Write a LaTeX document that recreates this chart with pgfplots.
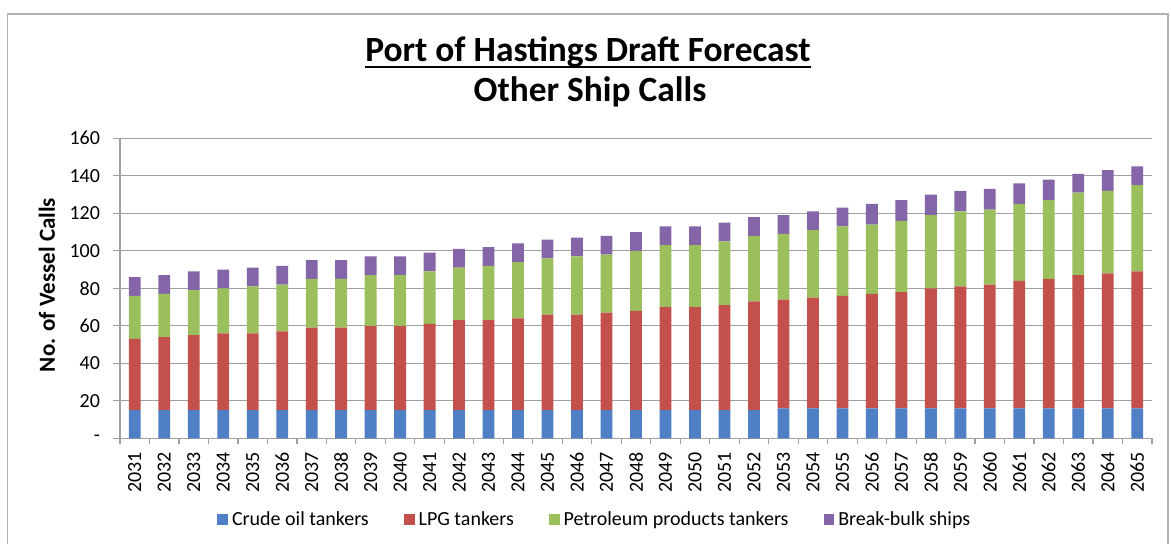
\documentclass[border=0pt]{standalone}
\usepackage{pgfplots}
\pgfplotsset{compat=1.18}
\usepackage{pgfplotstable}
\usepackage{fontspec}
\setmainfont{Carlito}
\definecolor{cblue}{HTML}{4F7FC4}
\definecolor{cred}{HTML}{C4504C}
\definecolor{cgreen}{HTML}{9BBF5C}
\definecolor{cpurple}{HTML}{8466A8}
\definecolor{gridc}{HTML}{A0A0A0}

\pgfplotstableread{
x blue red green purple
0 15 38 23 10
1 15 39 23 10
2 15 40 24 10
3 15 41 24 10
4 15 41 25 10
5 15 42 25 10
6 15 44 26 10
7 15 44 26 10
8 15 45 27 10
9 15 45 27 10
10 15 46 28 10
11 15 48 28 10
12 15 48 29 10
13 15 49 30 10
14 15 51 30 10
15 15 51 31 10
16 15 52 31 10
17 15 53 32 10
18 15 55 33 10
19 15 55 33 10
20 15 56 34 10
21 15 58 35 10
22 16 58 35 10
23 16 59 36 10
24 16 60 37 10
25 16 61 37 11
26 16 62 38 11
27 16 64 39 11
28 16 65 40 11
29 16 66 40 11
30 16 68 41 11
31 16 69 42 11
32 16 71 44 10
33 16 72 44 11
34 16 73 46 10
}\data

\begin{document}
\begin{tikzpicture}
\useasboundingbox (0,0) rectangle (585.5pt,272pt);
\fill[white] (0,0) rectangle (585.5pt,272pt);
\draw[gray!60, line width=0.8pt] (3.75pt,-20pt) rectangle (584pt,265pt);
\node[font=\fontsize{17.7}{21}\selectfont\bfseries, anchor=base, inner sep=0pt] (t1) at (294pt,241.2pt) {Port of Hastings Draft Forecast};
\draw[line width=0.85pt] ([yshift=-2.6pt]t1.base west) -- ([yshift=-2.6pt]t1.base east);
\node[font=\fontsize{17.7}{21}\selectfont\bfseries, anchor=base, inner sep=0pt] at (295pt,221.2pt) {Other Ship Calls};
\node[font=\fontsize{11.5}{13}\selectfont\bfseries, rotate=90] at (23.5pt,129.5pt) {No. of Vessel Calls};
\begin{axis}[
  at={(60pt,52.85pt)}, anchor=south west,
  scale only axis, width=516pt, height=150pt,
  ybar stacked, bar width=5.9pt,
  xmin=-0.5, xmax=34.5, ymin=0, ymax=160,
  ytick={0,20,40,60,80,100,120,140,160},
  yticklabels={-,20,40,60,80,100,120,140,160},
  xtick={0,...,34},
  xticklabels={2031,2032,2033,2034,2035,2036,2037,2038,2039,2040,2041,2042,2043,2044,2045,2046,2047,2048,2049,2050,2051,2052,2053,2054,2055,2056,2057,2058,2059,2060,2061,2062,2063,2064,2065},
  minor xtick={-0.5,0.5,...,34.5},
  major x tick style={draw=none},
  x tick label style={rotate=90, anchor=east, font=\fontsize{10}{12}\selectfont},
  y tick label style={font=\fontsize{10}{12}\selectfont, xshift=-3pt},
  axis x line*=bottom, axis y line*=left,
  axis line style={gridc, line width=0.7pt},
  tick style={gridc, line width=0.6pt},
  tick align=outside,
  major tick length=3.5pt, minor tick length=3pt,
  ymajorgrids, grid style={gridc, line width=0.6pt},
  legend columns=4,
  legend style={at={(0.461,-0.272)}, anchor=center, draw=none, fill=none,
    font=\fontsize{10}{12}\selectfont,
    /tikz/every even column/.append style={column sep=15.5pt}},
  legend image code/.code={\fill[#1] (0pt,-2.7pt) rectangle (5.4pt,2.7pt);},
]
\addplot[fill=cblue, draw=none] table[x=x,y=blue]{\data};
\addlegendentry{Crude oil tankers}
\addplot[fill=cred, draw=none] table[x=x,y=red]{\data};
\addlegendentry{LPG tankers}
\addplot[fill=cgreen, draw=none] table[x=x,y=green]{\data};
\addlegendentry{Petroleum products tankers}
\addplot[fill=cpurple, draw=none] table[x=x,y=purple]{\data};
\addlegendentry{Break-bulk ships}
\end{axis}
\end{tikzpicture}
\end{document}
